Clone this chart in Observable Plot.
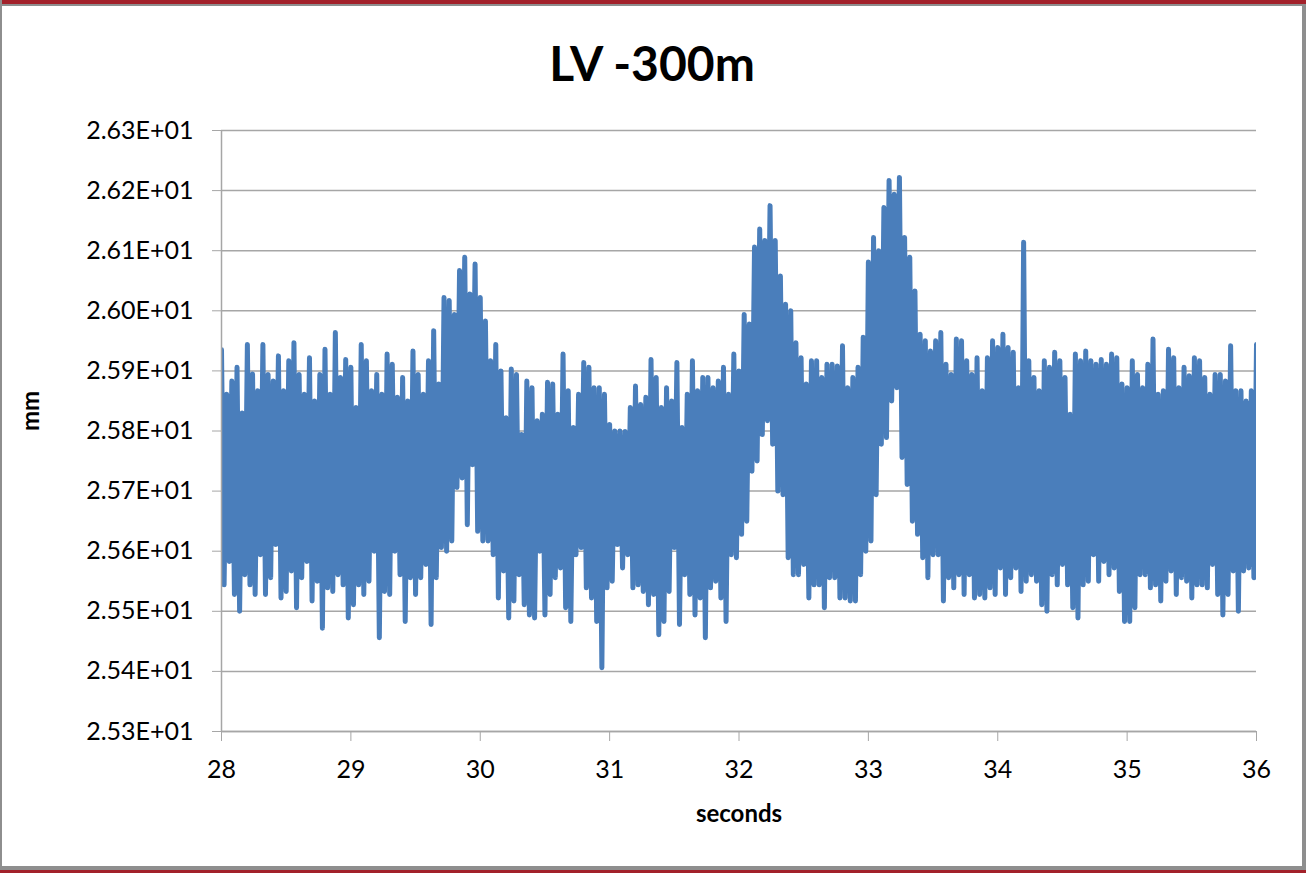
<!DOCTYPE html>
<html>
<head>
<meta charset="utf-8">
<script src="https://cdn.jsdelivr.net/npm/d3@7"></script>
<script src="https://cdn.jsdelivr.net/npm/@observablehq/plot@0.6"></script>
<style>
  html, body { margin: 0; padding: 0; background: #fff; }
  #page { position: relative; width: 1306px; height: 873px; overflow: hidden; background: #fff; font-family: Lato, "Noto Sans", sans-serif; }
  .bar { position: absolute; }
  #title { position: absolute; left: 0; width: 1304px; top: 39px; text-align: center; font-family: Lato, sans-serif; font-weight: bold; font-size: 48px; line-height: 1; color: #000; }
  #chart { position: absolute; left: 0; top: 0; }
</style>
</head>
<body>
<div id="page">
  <div id="chart"></div>
  <div id="title">LV -300m</div>
  <div class="bar" style="left:0;top:0;width:1306px;height:4px;background:#a2212a"></div>
  <div class="bar" style="left:0;top:4px;width:1306px;height:2px;background:#8e8e8e"></div>
  <div class="bar" style="left:0;top:0;width:2px;height:873px;background:#8e8e8e"></div>
  <div class="bar" style="left:1302px;top:4px;width:4px;height:866px;background:#8e8e8e"></div>
  <div class="bar" style="left:0;top:866px;width:1306px;height:4px;background:#8e8e8e"></div>
  <div class="bar" style="left:0;top:870px;width:1306px;height:3px;background:#a2212a"></div>
</div>
<script>
// Sampling: one high and one low reading every 0.04 s starting at 28 s
const startSecond = 28;
const sampleStep = 0.04;

// Upper envelope readings (mm)
const highs = [
  25.935, 25.861, 25.883, 25.906, 25.83, 25.944, 25.895, 25.867, 25.944, 25.894, 25.883, 25.925, 25.867, 25.917, 25.947, 25.894, 25.861, 25.922, 25.85, 25.894, 25.936, 25.861, 25.964, 25.889, 25.919,
  25.906, 25.839, 25.944, 25.917, 25.867, 25.894, 25.861, 25.928, 25.911, 25.856, 25.889, 25.85, 25.933, 25.894, 25.861, 25.917, 25.967, 25.878, 26.022, 26.017, 25.994, 26.067, 26.089, 26.028, 26.078,
  26.022, 25.983, 25.917, 25.944, 25.9, 25.822, 25.903, 25.894, 25.794, 25.883, 25.872, 25.817, 25.828, 25.881, 25.878, 25.828, 25.928, 25.867, 25.806, 25.861, 25.914, 25.906, 25.872, 25.872, 25.861,
  25.811, 25.8, 25.8, 25.799, 25.839, 25.875, 25.844, 25.856, 25.919, 25.889, 25.839, 25.872, 25.85, 25.914, 25.806, 25.861, 25.917, 25.867, 25.889, 25.889, 25.872, 25.883, 25.906, 25.861, 25.928,
  25.9, 25.994, 25.978, 26.106, 26.136, 26.117, 26.175, 26.117, 26.058, 26.011, 26.0, 25.947, 25.922, 25.878, 25.917, 25.917, 25.889, 25.911, 25.911, 25.908, 25.942, 25.872, 25.889, 25.906, 25.956,
  26.081, 26.122, 26.1, 26.172, 26.217, 26.194, 26.222, 26.122, 26.089, 26.033, 25.961, 25.95, 25.933, 25.95, 25.964, 25.911, 25.894, 25.953, 25.95, 25.917, 25.894, 25.922, 25.867, 25.922, 25.95,
  25.939, 25.961, 25.939, 25.931, 25.872, 26.114, 25.917, 25.889, 25.867, 25.917, 25.906, 25.931, 25.917, 25.889, 25.828, 25.928, 25.917, 25.933, 25.917, 25.911, 25.919, 25.911, 25.928, 25.922, 25.878,
  25.872, 25.917, 25.894, 25.872, 25.911, 25.953, 25.861, 25.867, 25.936, 25.922, 25.872, 25.906, 25.892, 25.922, 25.917, 25.889, 25.861, 25.894, 25.894, 25.883, 25.942, 25.867, 25.867, 25.85, 25.867, 25.944
];

// Lower envelope readings (mm)
const lows = [
  25.544, 25.583, 25.528, 25.50, 25.561, 25.544, 25.528, 25.594, 25.528, 25.556, 25.611, 25.522, 25.533, 25.567, 25.506, 25.556, 25.583, 25.517, 25.55, 25.472, 25.539, 25.533, 25.561, 25.544, 25.489,
  25.511, 25.544, 25.528, 25.55, 25.6, 25.456, 25.533, 25.528, 25.6, 25.561, 25.483, 25.556, 25.528, 25.556, 25.578, 25.478, 25.556, 25.606, 25.6, 25.617, 25.706, 25.722, 25.644, 25.744, 25.633,
  25.617, 25.617, 25.594, 25.522, 25.567, 25.489, 25.517, 25.561, 25.511, 25.494, 25.489, 25.6, 25.494, 25.528, 25.556, 25.572, 25.506, 25.483, 25.594, 25.606, 25.539, 25.522, 25.483, 25.406, 25.539,
  25.55, 25.611, 25.572, 25.594, 25.539, 25.544, 25.533, 25.511, 25.528, 25.461, 25.483, 25.533, 25.606, 25.478, 25.561, 25.528, 25.494, 25.522, 25.456, 25.539, 25.55, 25.522, 25.483, 25.594, 25.589,
  25.628, 25.65, 25.733, 25.75, 25.794, 25.817, 25.778, 25.7, 25.694, 25.589, 25.561, 25.561, 25.578, 25.522, 25.544, 25.544, 25.506, 25.556, 25.556, 25.522, 25.522, 25.517, 25.517, 25.561, 25.6,
  25.617, 25.694, 25.778, 25.789, 25.85, 25.872, 25.756, 25.711, 25.65, 25.628, 25.589, 25.556, 25.594, 25.594, 25.517, 25.556, 25.539, 25.561, 25.528, 25.561, 25.522, 25.528, 25.522, 25.539, 25.528,
  25.572, 25.528, 25.556, 25.572, 25.533, 25.55, 25.561, 25.55, 25.511, 25.5, 25.561, 25.544, 25.578, 25.544, 25.506, 25.489, 25.544, 25.55, 25.594, 25.55, 25.583, 25.561, 25.572, 25.533, 25.483,
  25.483, 25.506, 25.561, 25.561, 25.539, 25.544, 25.517, 25.55, 25.567, 25.528, 25.556, 25.55, 25.522, 25.544, 25.544, 25.539, 25.578, 25.528, 25.494, 25.528, 25.567, 25.5, 25.567, 25.572, 25.556, 25.544
];

const xTicks = [28, 29, 30, 31, 32, 33, 34, 35, 36];
const yTicks = [25.3, 25.4, 25.5, 25.6, 25.7, 25.8, 25.9, 26.0, 26.1, 26.2, 26.3];
const yTickLabels = ["2.53E+01", "2.54E+01", "2.55E+01", "2.56E+01", "2.57E+01", "2.58E+01", "2.59E+01", "2.60E+01", "2.61E+01", "2.62E+01", "2.63E+01"];

const n = Math.min(highs.length, lows.length);
const signal = [];
for (let i = 0; i < n; i++) {
  const t = startSecond + i * sampleStep;
  signal.push({t: t, v: highs[i]});
  if (t + sampleStep / 2 <= 36) signal.push({t: t + sampleStep / 2, v: lows[i]});
}

const gray = "#a6a6a6";
const chart = Plot.plot({
  width: 1306,
  height: 873,
  marginTop: 130,
  marginLeft: 221,
  marginRight: 50,
  marginBottom: 142,
  style: {fontFamily: "Lato, 'Noto Sans', sans-serif", fontSize: "25px", color: "#000", background: "transparent", overflow: "visible"},
  x: {domain: [28, 36]},
  y: {domain: [25.3, 26.3]},
  marks: [
    Plot.gridY(yTicks, {stroke: gray, strokeOpacity: 1, strokeWidth: 1.5}),
    Plot.line(signal, {x: "t", y: "v", stroke: "#4a7ebb", strokeWidth: 5, strokeLinejoin: "round", strokeLinecap: "round", clip: true}),
    Plot.ruleX([28], {y1: 26.3, y2: 25.3, stroke: gray, strokeWidth: 1.5}),
    Plot.ruleY([25.3], {stroke: gray, strokeWidth: 1.5}),
    Plot.axisY(yTicks, {tickSize: 9, tickPadding: 19, stroke: gray, strokeOpacity: 1, fill: "#000", fontSize: 25,
      tickFormat: d => yTickLabels[yTicks.indexOf(d)], label: null}),
    Plot.axisX(xTicks, {tickSize: 10, tickPadding: 19, stroke: gray, strokeOpacity: 1, fill: "#000", fontSize: 25,
      tickFormat: d => String(d), label: null}),
    Plot.text(["mm"], {frameAnchor: "left", dx: -190, rotate: -90, fontWeight: "bold", fontSize: 24, fill: "#000"}),
    Plot.text(["seconds"], {frameAnchor: "bottom", dy: 90, fontWeight: "bold", fontSize: 24, fill: "#000"})
  ]
});
document.getElementById("chart").appendChild(chart);
</script>
</body>
</html>
